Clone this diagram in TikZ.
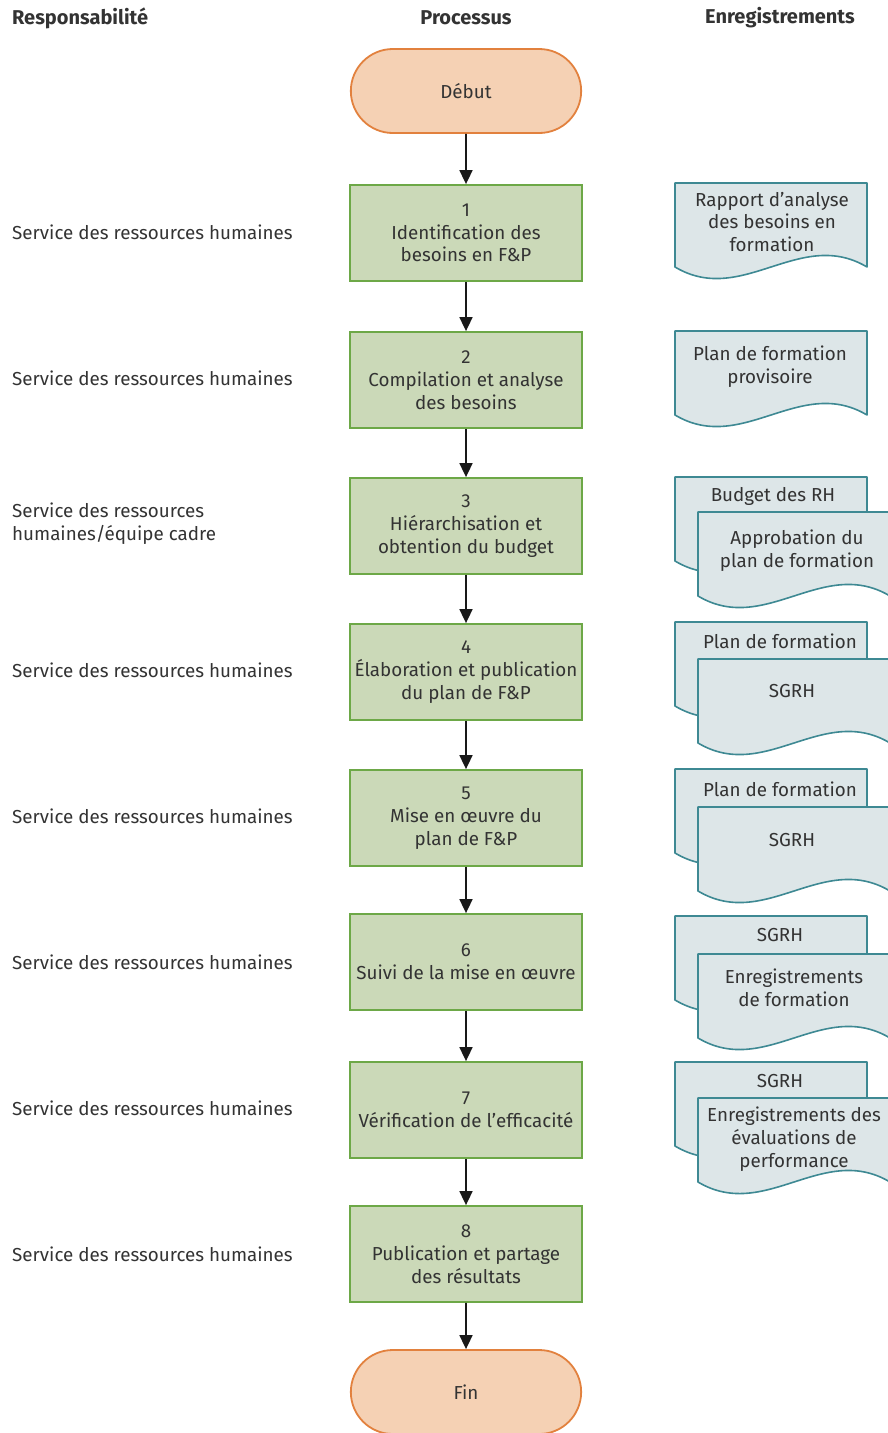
\documentclass[tikz,border=0pt]{standalone}
\usepackage{fontspec}
\setmainfont{Fira Sans}
\usetikzlibrary{shapes.misc,arrows.meta}
\definecolor{ink}{HTML}{333333}
\definecolor{termfill}{HTML}{F5D1B4}
\definecolor{termline}{HTML}{E2813E}
\definecolor{procfill}{HTML}{CBD9B8}
\definecolor{procline}{HTML}{6DA847}
\definecolor{docfill}{HTML}{DDE6E8}
\definecolor{docline}{HTML}{3E8993}
\tikzset{
  every node/.style={text=ink,font=\fontsize{18.8}{22.8}\selectfont},
  head/.style={font=\fontsize{20}{24}\selectfont\bfseries,inner sep=0pt},
  term/.style={rounded rectangle,draw=termline,fill=termfill,line width=1.8pt,
    minimum width=237pt,minimum height=84pt},
  proc/.style={rectangle,draw=procline,fill=procfill,line width=1.8pt,
    minimum width=232pt,minimum height=96pt,align=center,inner sep=2pt},
  resp/.style={anchor=west,align=left,inner sep=0pt},
  doctext/.style={align=center,inner sep=0pt},
  docpage/.style={draw=docline,fill=docfill,line width=1.6pt,line join=round},
  flow/.style={draw=black!90,line width=1.7pt,-{Triangle[length=14pt,width=13pt]}}
}
% a page with a wavy lower edge, top-left corner at (#1,#2)
\newcommand\DocPage[2]{%
  \begin{scope}[shift={(#1,#2)}]
    \path[docpage] (0,0) -- (192,0) -- (192,84)
      .. controls (124.8,44) and (67.2,124) .. (0,84) -- cycle;
  \end{scope}}
\begin{document}
\begin{tikzpicture}[x=1pt,y=-1pt]
\useasboundingbox (0,0) rectangle (888,1433);
\clip (0,0) rectangle (888,1433);

% column titles
\node[head,anchor=west] (hresp) at (12,18) {Responsabilité};
\node[head] (hproc) at (466,18) {Processus};
\node[head] (hrec) at (780,18) {Enregistrements};

% process column
\node[term] (debut) at (466,91) {Début};
\node[proc] (p1) at (466,233) {1\\Identification des\\besoins en F\&P};
\node[proc] (p2) at (466,380) {2\\Compilation et analyse\\des besoins};
\node[proc] (p3) at (466,526) {3\\Hiérarchisation et\\obtention du budget};
\node[proc] (p4) at (466,672) {4\\Élaboration et publication\\du plan de F\&P};
\node[proc] (p5) at (466,818) {5\\Mise en œuvre du\\plan de F\&P};
\node[proc] (p6) at (466,962) {6\\Suivi de la mise en œuvre};
\node[proc] (p7) at (466,1110) {7\\Vérification de l’efficacité};
\node[proc] (p8) at (466,1254) {8\\Publication et partage\\des résultats};
\node[term] (fin) at (466,1392) {Fin};

\draw[flow] (debut) -- (p1);
\draw[flow] (p1) -- (p2);
\draw[flow] (p2) -- (p3);
\draw[flow] (p3) -- (p4);
\draw[flow] (p4) -- (p5);
\draw[flow] (p5) -- (p6);
\draw[flow] (p6) -- (p7);
\draw[flow] (p7) -- (p8);
\draw[flow] (p8) -- (fin);

% responsibility column
\node[resp] (r1) at (12,232) {Service des ressources humaines};
\node[resp] (r2) at (12,378) {Service des ressources humaines};
\node[resp] (r3) at (12,524) {Service des ressources\\humaines/équipe cadre};
\node[resp] (r4) at (12,670) {Service des ressources humaines};
\node[resp] (r5) at (12,816) {Service des ressources humaines};
\node[resp] (r6) at (12,962) {Service des ressources humaines};
\node[resp] (r7) at (12,1108) {Service des ressources humaines};
\node[resp] (r8) at (12,1254) {Service des ressources humaines};

% records column
\DocPage{675}{183}
\node[doctext] (d1) at (772,222) {Rapport d’analyse\\des besoins en\\formation};

\DocPage{675}{331}
\node[doctext] (d2) at (770,367) {Plan de formation\\provisoire};

\DocPage{675}{477}
\node[doctext] (d3a) at (773,496) {Budget des RH};
\DocPage{698}{512}
\node[doctext] (d3b) at (797,551) {Approbation du\\plan de formation};

\DocPage{675}{622}
\node[doctext] (d4a) at (780,641) {Plan de formation};
\DocPage{698}{659}
\node[doctext] (d4b) at (792,691) {SGRH};

\DocPage{675}{769}
\node[doctext] (d5a) at (780,789) {Plan de formation};
\DocPage{698}{807}
\node[doctext] (d5b) at (792,840) {SGRH};

\DocPage{675}{916}
\node[doctext] (d6a) at (780,935) {SGRH};
\DocPage{698}{954}
\node[doctext] (d6b) at (794,988) {Enregistrements\\de formation};

\DocPage{675}{1062}
\node[doctext] (d7a) at (780,1081) {SGRH};
\DocPage{698}{1098}
\node[doctext] (d7b) at (794,1139) {Enregistrements des\\évaluations de\\performance};
\end{tikzpicture}
\end{document}
